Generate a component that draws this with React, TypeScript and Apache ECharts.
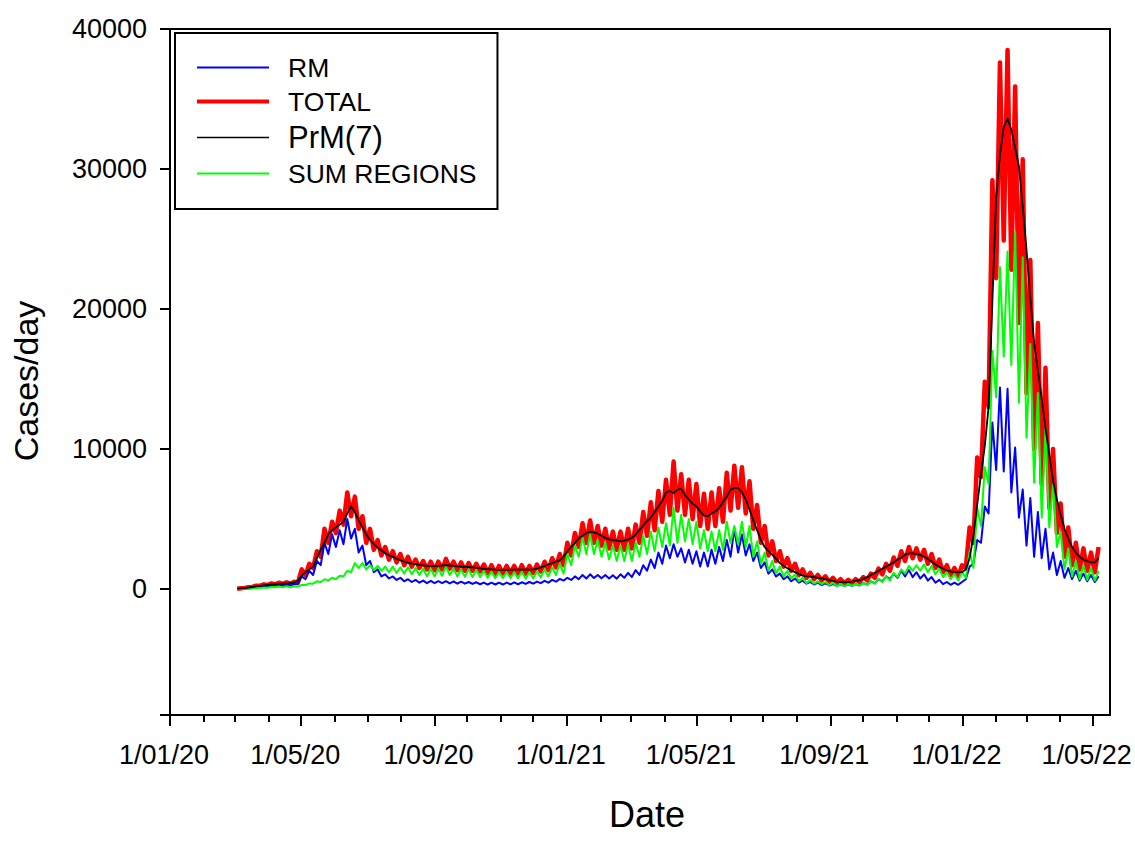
import React, { useEffect, useRef } from "react";
import * as echarts from "echarts";

// ---- data (sampled every half week from 2020-03-03) ----
const SERIES_START = "2020-03-03";
const STEP_DAYS = 3.5;

const rmValues = [
  20, 40, 60, 90, 110, 150, 170, 210, 200, 250,
  230, 280, 250, 300, 260, 330, 380, 900, 700, 1300,
  1000, 2000, 1700, 3300, 2500, 3900, 3000, 4200, 3200, 5000,
  3600, 4300, 2600, 3100, 1700, 2000, 1200, 1400, 900, 1050,
  750, 900, 650, 800, 550, 700, 500, 650, 450, 600,
  420, 580, 420, 560, 420, 560, 400, 540, 380, 520,
  380, 500, 360, 480, 340, 460, 320, 450, 320, 450,
  320, 460, 330, 470, 340, 480, 360, 500, 380, 530,
  420, 580, 450, 650, 520, 720, 600, 800, 650, 900,
  700, 1000, 750, 1050, 780, 1000, 760, 1000, 750, 980,
  740, 1050, 800, 1150, 850, 1350, 1000, 1700, 1300, 2100,
  1500, 2600, 1800, 3100, 2200, 3200, 2300, 2900, 1900, 2800,
  1800, 2700, 1600, 2600, 1600, 2800, 1800, 3000, 2000, 3500,
  2300, 4300, 2600, 3900, 2400, 3200, 2000, 2600, 1500, 1900,
  1100, 1400, 900, 1100, 700, 900, 550, 750, 450, 600,
  380, 500, 320, 450, 280, 400, 250, 360, 220, 330,
  210, 320, 220, 350, 250, 420, 320, 550, 420, 700,
  550, 900, 700, 1100, 800, 1300, 900, 1350, 850, 1200,
  750, 1050, 600, 850, 450, 650, 350, 500, 300, 450,
  300, 500, 700, 1600, 1800, 3500, 3300, 5900, 5400, 11900,
  8500, 14400, 8400, 14300, 6900, 10100, 5100, 7100, 3100, 6500,
  2300, 5500, 2200, 4300, 1400, 2600, 1000, 2000, 800, 1500,
  700, 1300, 600, 1100, 550, 1000, 500, 900,
];

const totalValues = [
  20, 50, 80, 130, 150, 230, 230, 330, 280, 400,
  330, 450, 370, 480, 380, 520, 450, 1400, 1000, 1800,
  1500, 2700, 2300, 4300, 3300, 4800, 4000, 5600, 4600, 6900,
  5200, 6600, 4300, 5200, 3300, 4300, 2800, 3500, 2400, 3000,
  2100, 2700, 1900, 2500, 1700, 2300, 1600, 2100, 1500, 2000,
  1400, 1950, 1350, 1950, 1400, 2150, 1450, 1950, 1350, 1900,
  1300, 1850, 1300, 1800, 1250, 1750, 1150, 1700, 1100, 1650,
  1100, 1650, 1100, 1650, 1100, 1700, 1100, 1650, 1150, 1750,
  1250, 1950, 1350, 2200, 1550, 2500, 1700, 3300, 2400, 4000,
  3000, 4700, 3300, 4900, 3300, 4500, 3100, 4300, 2900, 4100,
  2800, 4100, 2800, 4300, 2900, 4600, 3300, 5500, 3800, 6200,
  4200, 7000, 4800, 7800, 5300, 9100, 5600, 8200, 5300, 7800,
  5000, 7500, 4500, 6800, 4300, 6900, 4500, 7200, 4800, 8300,
  5600, 8800, 5800, 8700, 5400, 7700, 4300, 6000, 3300, 4500,
  2400, 3400, 2000, 2700, 1600, 2200, 1300, 1800, 1000, 1400,
  800, 1150, 700, 1000, 620, 900, 520, 800, 430, 700,
  420, 650, 450, 700, 500, 850, 620, 1100, 800, 1450,
  1050, 1800, 1300, 2250, 1650, 2700, 2000, 3000, 2200, 2900,
  2100, 2800, 1800, 2500, 1500, 2100, 1200, 1700, 1000, 1500,
  900, 1700, 1500, 4400, 3300, 9400, 8000, 14800, 13000, 29200,
  22200, 37600, 24900, 38500, 22800, 35900, 19000, 30700, 14000, 23500,
  10000, 19000, 7500, 15800, 5800, 10000, 4000, 6100, 2300, 4400,
  1700, 3300, 1400, 2900, 1300, 2600, 1200, 3000,
];

const prm7Values = [
  20, 40, 70, 100, 140, 180, 220, 260, 290, 320,
  350, 370, 390, 400, 420, 450, 600, 950, 1200, 1400,
  1600, 2200, 2800, 3300, 3900, 4200, 4400, 4600, 4800, 5400,
  5900, 5500, 4900, 4400, 3900, 3500, 3200, 2950, 2750, 2550,
  2400, 2300, 2150, 2050, 1950, 1870, 1820, 1780, 1720, 1680,
  1650, 1650, 1640, 1650, 1680, 1700, 1680, 1650, 1620, 1600,
  1590, 1570, 1550, 1520, 1480, 1440, 1420, 1400, 1380, 1370,
  1360, 1360, 1370, 1380, 1380, 1390, 1380, 1380, 1400, 1450,
  1550, 1650, 1750, 1850, 1950, 2050, 2300, 2700, 3000, 3300,
  3600, 3800, 4000, 4100, 4050, 3950, 3800, 3650, 3550, 3500,
  3450, 3400, 3450, 3550, 3650, 3900, 4200, 4550, 4850, 5100,
  5500, 5900, 6300, 6900, 7000, 6850, 7100, 7150, 6700, 6400,
  6100, 5900, 5550, 5250, 5200, 5400, 5550, 5800, 6200, 6600,
  7100, 7200, 7200, 6900, 6400, 5700, 4900, 4200, 3500, 3000,
  2700, 2450, 2150, 1850, 1650, 1480, 1330, 1200, 1080, 960,
  920, 880, 840, 800, 760, 700, 640, 580, 530, 500,
  490, 500, 530, 580, 640, 720, 850, 1000, 1150, 1300,
  1450, 1600, 1750, 1900, 2100, 2250, 2450, 2550, 2550, 2500,
  2430, 2300, 2150, 1950, 1750, 1580, 1450, 1330, 1250, 1200,
  1200, 1200, 1400, 2200, 3800, 6000, 8200, 10200, 13000, 20500,
  28000, 31000, 33000, 33600, 32800, 31500, 30200, 27300, 24200, 20800,
  17600, 15600, 13600, 11500, 9600, 7700, 6400, 5300, 4300, 3600,
  3000, 2600, 2300, 2100, 2000, 1900, 1900, 2200,
];

const sumRegionsValues = [
  10, 20, 20, 40, 50, 70, 80, 100, 90, 150,
  120, 180, 130, 190, 130, 200, 180, 300, 280, 400,
  380, 550, 500, 700, 600, 800, 700, 950, 900, 1300,
  1200, 1850, 1500, 1850, 1400, 1700, 1350, 1650, 1300, 1600,
  1200, 1600, 1150, 1550, 1100, 1550, 1050, 1500, 1000, 1450,
  900, 1450, 900, 1450, 950, 1600, 1000, 1450, 900, 1400,
  880, 1400, 850, 1350, 850, 1300, 800, 1250, 780, 1200,
  780, 1200, 780, 1200, 760, 1250, 740, 1200, 770, 1250,
  830, 1400, 900, 1550, 1000, 1800, 1100, 2500, 1700, 3100,
  2300, 3700, 2500, 3900, 2500, 3500, 2300, 3300, 2100, 3100,
  2000, 3100, 2000, 3200, 2000, 3300, 2300, 3800, 2500, 4100,
  2700, 4400, 3000, 4700, 3100, 5800, 3300, 5300, 3400, 5000,
  3200, 4800, 2900, 4200, 2700, 4100, 2700, 4200, 2800, 4800,
  3300, 4500, 3200, 4800, 3000, 4500, 2300, 3400, 1800, 2600,
  1300, 2000, 1100, 1600, 900, 1300, 750, 1050, 550, 800,
  420, 650, 380, 550, 340, 500, 270, 440, 210, 370,
  210, 330, 230, 350, 250, 430, 300, 550, 380, 750,
  500, 900, 600, 1150, 850, 1400, 1100, 1650, 1300, 1700,
  1300, 1750, 1200, 1650, 1050, 1450, 850, 1200, 700, 1050,
  600, 1200, 800, 2700, 1500, 5800, 4500, 8700, 7500, 17000,
  13700, 23000, 16600, 24100, 16000, 25500, 13300, 23700, 10800, 17500,
  7600, 14000, 5100, 11500, 4400, 7500, 3000, 4100, 1400, 2900,
  900, 2000, 700, 1700, 650, 1500, 600, 1300,
];

const legendNames = ["RM", "TOTAL", "PrM(7)", "SUM REGIONS"];
const yTickLabels = [0, 10000, 20000, 30000, 40000];
const labelMonths = ["01", "05", "09"];
const AXIS_START = "2020-01-01";
const AXIS_END = "2022-05-17";

const FONT = "'Liberation Sans', Arial, Helvetica, sans-serif";
const DAY_MS = 86400000;

const COLORS: Record<string, string> = {
  RM: "#0000ff",
  TOTAL: "#ff0000",
  "PrM(7)": "#000000",
  "SUM REGIONS": "#00ff00",
};
const WIDTHS: Record<string, number> = {
  RM: 2,
  TOTAL: 4.5,
  "PrM(7)": 1.8,
  "SUM REGIONS": 2,
};
const LEGEND_WIDTHS: Record<string, number> = {
  RM: 2,
  TOTAL: 4,
  "PrM(7)": 1.5,
  "SUM REGIONS": 1.8,
};

function ts(s: string) {
  const [y, m, d] = s.split("-").map(Number);
  return Date.UTC(y, m - 1, d);
}

function buildDays(): string[] {
  const out: string[] = [];
  for (let t = ts(AXIS_START); t <= ts(AXIS_END); t += DAY_MS) {
    out.push(new Date(t).toISOString().slice(0, 10));
  }
  return out;
}

function toPairs(vals: number[]) {
  const t0 = ts(SERIES_START);
  return vals.map((v, i) => [t0 + i * STEP_DAYS * DAY_MS, v]);
}

function lineSeries(name: string, vals: number[]) {
  return {
    name,
    type: "line",
    xAxisIndex: 0,
    symbol: "none",
    data: toPairs(vals),
    lineStyle: { color: COLORS[name], width: WIDTHS[name], join: "round" },
    itemStyle: { color: COLORS[name] },
  };
}

export default function App() {
  const ref = useRef<HTMLDivElement>(null);

  useEffect(() => {
    document.body.style.margin = "0";
    if (!ref.current) return;
    const chart = echarts.init(ref.current, undefined, { renderer: "svg" });
    const days = buildDays();
    const isMonthStart = (_i: number, v: string) => v.slice(8, 10) === "01";
    const isLabelMonth = (_i: number, v: string) =>
      v.slice(8, 10) === "01" && labelMonths.includes(v.slice(5, 7));

    const option: any = {
      animation: false,
      backgroundColor: "#fff",
      textStyle: { fontFamily: FONT },
      grid: {
        left: 170,
        top: 29,
        right: 25,
        bottom: 131,
        show: true,
        borderColor: "#000",
        borderWidth: 2,
      },
      legend: {
        data: legendNames.map((n) => ({
          name: n,
          lineStyle: { color: COLORS[n], width: LEGEND_WIDTHS[n] },
        })),
        orient: "vertical",
        left: 175,
        top: 33,
        itemWidth: 72,
        itemHeight: 4,
        itemGap: 7,
        padding: [21, 21, 22, 20],
        borderColor: "#000",
        borderWidth: 2,
        backgroundColor: "#fff",
        itemStyle: { opacity: 0 },
        formatter: (n: string) => (n === "PrM(7)" ? `{b|${n}}` : `{a|${n}}`),
        textStyle: {
          fontFamily: FONT,
          color: "#000",
          rich: {
            a: { fontSize: 26.5, lineHeight: 27, padding: [0, 0, 0, 14], fontFamily: FONT, color: "#000" },
            b: { fontSize: 31, lineHeight: 32, padding: [0, 0, 0, 14], fontFamily: FONT, color: "#000" },
          },
        },
      },
      xAxis: [
        {
          type: "time",
          show: false,
          min: ts(AXIS_START),
          max: ts(AXIS_END),
        },
        {
          type: "category",
          data: days,
          boundaryGap: false,
          position: "bottom",
          axisLine: { show: false },
          axisTick: { show: true, interval: isMonthStart, length: 7, lineStyle: { color: "#000", width: 2 } },
          axisLabel: { show: false },
          splitLine: { show: false },
        },
        {
          type: "category",
          data: days,
          boundaryGap: false,
          position: "bottom",
          axisLine: { show: true, lineStyle: { color: "#000", width: 2 } },
          axisTick: { show: true, interval: isLabelMonth, length: 11, lineStyle: { color: "#000", width: 2 } },
          axisLabel: {
            show: true,
            interval: isLabelMonth,
            formatter: (v: string) => `1/${v.slice(5, 7)}/${v.slice(2, 4)}`,
            fontSize: 27,
            color: "#000",
            fontFamily: FONT,
            margin: 26,
            padding: [0, 12, 0, 0],
          },
          splitLine: { show: false },
          name: "Date",
          nameLocation: "middle",
          nameGap: 81,
          nameTextStyle: { fontSize: 36, color: "#000", fontFamily: FONT, padding: [0, 0, 0, 14] },
        },
      ],
      yAxis: {
        type: "value",
        min: -9000,
        max: 40000,
        splitLine: { show: false },
        axisLine: { show: true, lineStyle: { color: "#000", width: 2 } },
        axisTick: { show: true, length: 10, lineStyle: { color: "#000", width: 2 } },
        axisLabel: {
          fontSize: 27,
          color: "#000",
          fontFamily: FONT,
          margin: 23,
          formatter: (v: number) => (yTickLabels.includes(v) ? String(v) : ""),
        },
        name: "Cases/day",
        nameLocation: "middle",
        nameGap: 127,
        nameTextStyle: { fontSize: 34, color: "#000", fontFamily: FONT, padding: [0, 18, 0, 0] },
      },
      series: [
        lineSeries("TOTAL", totalValues),
        lineSeries("RM", rmValues),
        lineSeries("SUM REGIONS", sumRegionsValues),
        lineSeries("PrM(7)", prm7Values),
      ],
    };
    chart.setOption(option);
    return () => chart.dispose();
  }, []);

  return <div ref={ref} style={{ width: 1135, height: 846 }} />;
}
